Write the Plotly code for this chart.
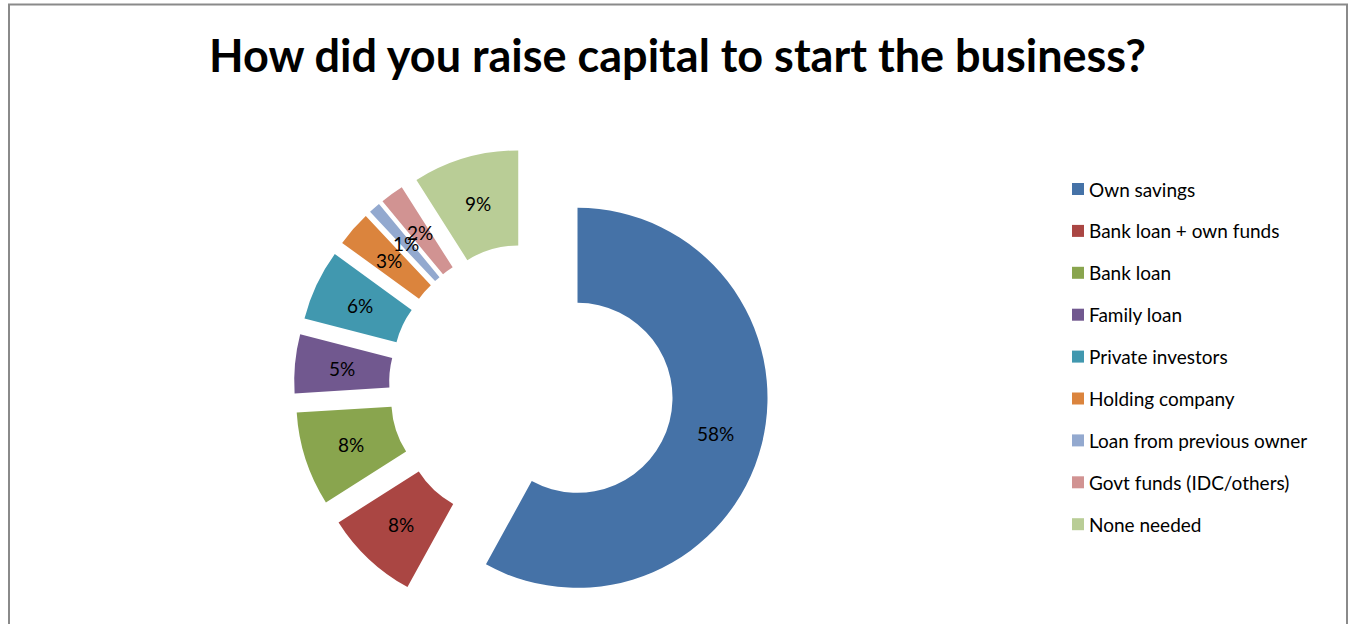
import math
import plotly.graph_objects as go

# Survey answers: how the business start-up capital was raised (percent of respondents)
labels = [
    "Own savings",
    "Bank loan + own funds",
    "Bank loan",
    "Family loan",
    "Private investors",
    "Holding company",
    "Loan from previous owner",
    "Govt funds (IDC/others)",
    "None needed",
]
shares = [58, 8, 8, 5, 6, 3, 1, 2, 9]
colors = ["#4572A7", "#AA4643", "#89A54E", "#71588F", "#4198AF",
          "#DB843D", "#93A9CF", "#D19392", "#B9CD96"]

W, H = 1355, 624
FONT = "Lato, 'Open Sans', sans-serif"


def px_x(x):
    return x / W


def px_y(y):
    return 1 - y / H


# Doughnut geometry in pixels: centre, outer radius, hole fraction, explode fraction
cx, cy, radius, hole, pull = 531.5, 386.0, 190.0, 0.5, 0.25
half = radius * (1 + pull)

fig = go.Figure(
    go.Pie(
        labels=labels,
        values=shares,
        sort=False,
        direction="clockwise",
        rotation=0,
        hole=hole,
        pull=pull,
        marker=dict(colors=colors, line=dict(width=0)),
        textinfo="none",
        hoverinfo="label+percent",
        showlegend=False,
        domain=dict(
            x=[px_x(cx - half), px_x(cx + half)],
            y=[px_y(cy + half), px_y(cy - half)],
        ),
    )
)

shapes = [
    # chart frame (open at the bottom edge of the page)
    dict(type="rect", xref="paper", yref="paper",
         x0=px_x(9), x1=px_x(1347), y0=px_y(640), y1=px_y(4.5),
         line=dict(color="#8A8A8A", width=2), fillcolor="rgba(0,0,0,0)",
         layer="below"),
]
annotations = []

# Percentage labels centred in the ring of each (exploded) slice
total = sum(shares)
running = 0
for v in shares:
    theta = 2 * math.pi * (running + v / 2) / total   # clockwise from 12 o'clock
    running += v
    dist = radius * pull + radius * (1 + hole) / 2
    lx = cx + dist * math.sin(theta)
    ly = cy - dist * math.cos(theta)
    annotations.append(dict(xref="paper", yref="paper",
                            x=px_x(lx), y=px_y(ly),
                            xanchor="center", yanchor="middle",
                            text=f"{v}%", showarrow=False,
                            font=dict(family=FONT, size=19, color="black")))

# Legend: colour square plus label, one row per answer
leg_x, leg_y0, leg_step, box = 1072, 189, 41.9, 12
for i, (lab, col) in enumerate(zip(labels, colors)):
    yc = leg_y0 + i * leg_step
    shapes.append(dict(type="rect", xref="paper", yref="paper",
                       x0=px_x(leg_x), x1=px_x(leg_x + box),
                       y0=px_y(yc + box / 2), y1=px_y(yc - box / 2),
                       line=dict(width=0), fillcolor=col))
    annotations.append(dict(xref="paper", yref="paper",
                            x=px_x(leg_x + box + 3), y=px_y(yc),
                            xanchor="left", yanchor="middle",
                            text=lab, showarrow=False,
                            font=dict(family=FONT, size=19, color="black")))

fig.update_layout(
    width=W,
    height=H,
    margin=dict(l=0, r=0, t=0, b=0),
    paper_bgcolor="white",
    plot_bgcolor="white",
    title=dict(
        text="<b>How did you raise capital to start the business?</b>",
        x=0.5, xanchor="center",
        y=px_y(56), yanchor="middle", yref="paper",
        font=dict(family=FONT, size=45, color="black"),
    ),
    shapes=shapes,
    annotations=annotations,
)

fig.write_html("out.html")
